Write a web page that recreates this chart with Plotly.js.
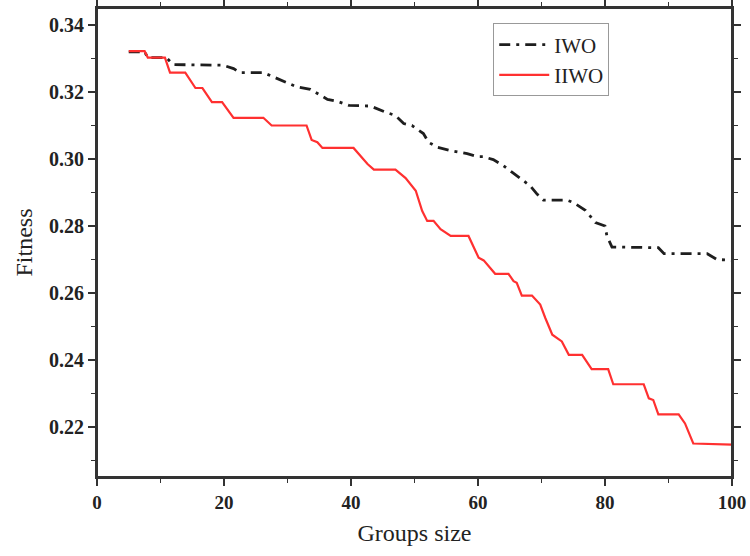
<!DOCTYPE html>
<html>
<head>
<meta charset="utf-8">
<script src="https://cdn.plot.ly/plotly-3.0.1.min.js"></script>
<style>html,body{margin:0;padding:0;background:#fff;}#chart{width:750px;height:556px;}</style>
</head>
<body>
<div id="chart"></div>
<script>
// IWO (dash-dot black)
const iwoX = [5, 7.5, 8, 10.9, 12.0, 19.9, 21.5, 22.5, 26.2, 27.8, 29.4, 31.5, 33.6, 36.3, 37.9, 39.7, 43.1, 45.4, 47.0, 48.3, 49.6, 51.4, 52.2, 53.6, 55.7, 58.3, 59.9, 60.8, 62.4, 64.0, 65.4, 66.4, 68.2, 69.3, 70.3, 74.0, 75.0, 76.9, 77.7, 78.5, 80.0, 80.3, 81.1, 88.4, 89.3, 96.1, 97.6, 100];
const iwoY = [0.3320, 0.3320, 0.3303, 0.3303, 0.3282, 0.3280, 0.3270, 0.3258, 0.3258, 0.3245, 0.3232, 0.3215, 0.3208, 0.3178, 0.3172, 0.3160, 0.3158, 0.3140, 0.3130, 0.3106, 0.3100, 0.3076, 0.3050, 0.3035, 0.3025, 0.3016, 0.3007, 0.3007, 0.2998, 0.2980, 0.2960, 0.2945, 0.2920, 0.2895, 0.2877, 0.2877, 0.2870, 0.2847, 0.2830, 0.2810, 0.2800, 0.2770, 0.2737, 0.2735, 0.2717, 0.2717, 0.2700, 0.2697];

// IIWO (solid red)
const iiwoX = [5, 7.5, 8, 10.7, 11.5, 13.9, 15.5, 16.6, 18.1, 19.7, 21.5, 26.2, 27.5, 33.0, 33.8, 34.7, 35.5, 40.4, 42.6, 43.6, 47.0, 48.6, 50.2, 51.2, 52.0, 53.0, 54.1, 55.7, 58.5, 60.1, 60.9, 62.7, 64.8, 65.6, 66.1, 66.9, 68.5, 69.8, 70.6, 71.7, 73.2, 74.3, 76.4, 77.9, 80.5, 81.3, 86.1, 86.9, 87.6, 88.4, 91.6, 92.6, 93.9, 100];
const iiwoY = [0.3322, 0.3322, 0.3303, 0.3303, 0.3258, 0.3258, 0.3212, 0.3212, 0.3170, 0.3170, 0.3123, 0.3123, 0.3100, 0.3100, 0.3057, 0.3050, 0.3033, 0.3033, 0.2985, 0.2968, 0.2968, 0.2943, 0.2905, 0.2845, 0.2815, 0.2815, 0.2790, 0.2770, 0.2770, 0.2705, 0.2697, 0.2657, 0.2657, 0.2635, 0.2630, 0.2592, 0.2592, 0.2565, 0.2525, 0.2475, 0.2455, 0.2415, 0.2415, 0.2372, 0.2372, 0.2327, 0.2327, 0.2285, 0.2280, 0.2237, 0.2237, 0.2210, 0.2150, 0.2147];

const seriesNames = ['IWO', 'IIWO'];
const xTitle = 'Groups size';
const yTitle = 'Fitness';

const serif = 'Liberation Serif, Times New Roman, serif';
const axisColor = '#333';
const xRange = [0, 100];
const yRange = [0.205, 0.3451];

const traces = [
  {x: iwoX, y: iwoY, name: seriesNames[0], type: 'scatter', mode: 'lines',
   line: {color: '#1e1e1e', width: 2.8, dash: '11px,6px,3px,6px'}},
  {x: iiwoX, y: iiwoY, name: seriesNames[1], type: 'scatter', mode: 'lines',
   line: {color: '#ff3030', width: 2.2}}
];

const layout = {
  width: 750, height: 556,
  margin: {l: 97, r: 18, t: 8, b: 79},
  paper_bgcolor: '#fff', plot_bgcolor: '#fff',
  showlegend: true,
  legend: {x: 0.624, y: 0.967, xanchor: 'left', yanchor: 'top',
    bordercolor: '#999', borderwidth: 1, bgcolor: '#fff', itemwidth: 50,
    font: {family: serif, size: 21, color: '#222'}, tracegroupgap: 0},
  // plot frame (top and right edges)
  shapes: [{type: 'rect', xref: 'paper', yref: 'paper', x0: 0, x1: 1, y0: 0, y1: 1,
    line: {color: axisColor, width: 2}, fillcolor: 'rgba(0,0,0,0)', layer: 'above'}],
  xaxis: {range: xRange, dtick: 20, tick0: 0, ticks: 'outside', ticklen: 7, tickwidth: 1.5,
    tickcolor: axisColor, showline: true, mirror: 'ticks', linecolor: axisColor, linewidth: 2,
    showgrid: false, zeroline: false,
    minor: {dtick: 10, ticks: 'outside', ticklen: 4, tickwidth: 1.5, tickcolor: axisColor, showgrid: false},
    tickfont: {family: serif, size: 19, color: '#222', weight: 'bold'},
    title: {text: xTitle, font: {family: serif, size: 24, color: '#222'}, standoff: 12}},
  yaxis: {range: yRange, dtick: 0.02, tick0: 0.22, tickformat: '.2f', ticks: 'outside', ticklen: 7, tickwidth: 1.5,
    tickcolor: axisColor, showline: true, mirror: 'ticks', linecolor: axisColor, linewidth: 2,
    showgrid: false, zeroline: false,
    minor: {dtick: 0.01, ticks: 'outside', ticklen: 4, tickwidth: 1.5, tickcolor: axisColor, showgrid: false},
    tickfont: {family: serif, size: 20, color: '#222', weight: 'bold'},
    title: {text: yTitle, font: {family: serif, size: 24, color: '#222'}, standoff: 10}}
};

Plotly.newPlot('chart', traces, layout, {displayModeBar: false, staticPlot: true});
</script>
</body>
</html>
